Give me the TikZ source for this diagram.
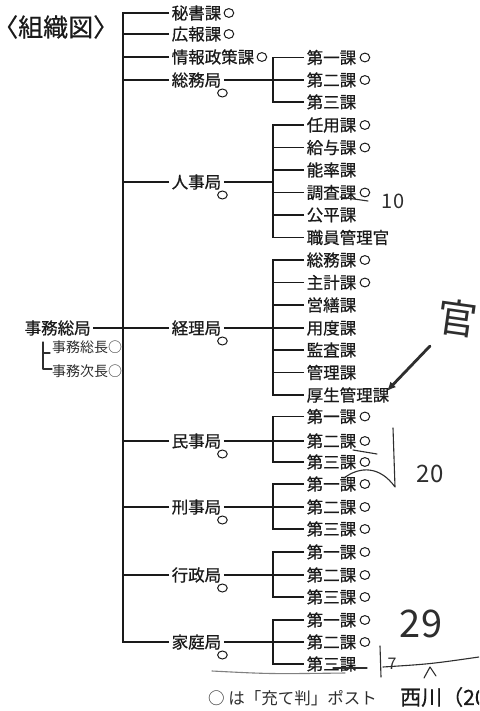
\documentclass[tikz,border=0pt]{standalone}
\usepackage{fontspec}
\newfontfamily\jp{Noto Sans CJK JP}[FakeBold=0.6]
\newfontfamily\jh{Noto Sans CJK JP}
\usetikzlibrary{arrows.meta}
\definecolor{ink}{HTML}{1A1A1A}
\definecolor{hand}{HTML}{2E2E2E}
\tikzset{
  ka/.style={font=\jp\fontsize{16.5}{16.5}\selectfont, inner xsep=2.5pt, inner ysep=0pt, anchor=west, text=ink},
  ln/.style={line width=1.3pt, draw=ink},
  mk/.style={line width=1pt, draw=ink},
  hw/.style={draw=hand, line width=1.1pt, line cap=round, line join=round},
  hwt/.style={inner sep=0pt, text=hand},
}
\newcommand\maru[1]{\draw[mk] ([xshift=6pt]#1.east) ellipse (4.8pt and 4.4pt);}
\newcommand\maruB[1]{\draw[mk] ([xshift=-1.5pt,yshift=-13pt]#1.east) ellipse (4.8pt and 4pt);}
\begin{document}
\begin{tikzpicture}[x=1pt,y=-1pt]
\useasboundingbox (0,0) rectangle (479,711);
\clip (0,0) rectangle (479,711);
\fill[white] (0,0) rectangle (479,711);

\node[ka, font=\jp\fontsize{25}{25}\selectfont, inner sep=0pt] (title) at (0,27) {\hspace*{-7pt}〈組織図〉};

\coordinate (tr) at (123,0);
\coordinate (sv) at (273,0);

% first level
\node[ka] (hisho) at (169,13) {秘書課};
\node[ka] (koho) at (169,34) {広報課};
\node[ka] (joho) at (169,57) {情報政策課};
\node[ka] (somu) at (169,80) {総務局};
\node[ka] (jinji) at (169,182) {人事局};
\node[ka] (keiri) at (169,328) {経理局};
\node[ka] (minji) at (169,441) {民事局};
\node[ka] (keiji) at (169,507) {刑事局};
\node[ka] (gyosei) at (169,575) {行政局};
\node[ka] (katei) at (169,642) {家庭局};
\node[ka] (jimu) at (22,328) {事務総局};

% second level
\node[ka] (s1) at (304,57.5) {第一課};
\node[ka] (s2) at (304,80) {第二課};
\node[ka] (s3) at (304,102) {第三課};

\node[ka] (j1) at (304,125) {任用課};
\node[ka] (j2) at (304,147.5) {給与課};
\node[ka] (j3) at (304,170) {能率課};
\node[ka] (j4) at (304,192.5) {調査課};
\node[ka] (j5) at (304,215) {公平課};
\node[ka] (j6) at (304,237.5) {職員管理官};

\node[ka] (k1) at (304,260) {総務課};
\node[ka] (k2) at (304,282.5) {主計課};
\node[ka] (k3) at (304,305) {営繕課};
\node[ka] (k4) at (304,328) {用度課};
\node[ka] (k5) at (304,350) {監査課};
\node[ka] (k6) at (304,372.5) {管理課};
\node[ka] (k7) at (304,395) {厚生管理課};

\node[ka] (m1) at (304,416.5) {第一課};
\node[ka] (m2) at (304,441) {第二課};
\node[ka] (m3) at (304,462) {第三課};

\node[ka] (p1) at (304,484) {第一課};
\node[ka] (p2) at (304,507) {第二課};
\node[ka] (p3) at (304,529) {第三課};

\node[ka] (g1) at (304,552) {第一課};
\node[ka] (g2) at (304,575) {第二課};
\node[ka] (g3) at (304,597) {第三課};

\node[ka] (f1) at (304,620) {第一課};
\node[ka] (f2) at (304,642) {第二課};
\node[ka] (f3) at (304,664) {第三課};

% trunk
\draw[ln] (hisho.west) -| (tr |- katei.west) -- (katei.west);
\foreach \n in {koho,joho,somu,jinji,keiri,minji,keiji,gyosei}
  \draw[ln] (\n.west) -- (\n.west -| tr);
\draw[ln] (jimu.east) -- (keiri.west);

% sub brackets
\draw[ln] (s1.west) -| (sv |- s3.west) -- (s3.west);
\draw[ln] (somu.east) -- (s2.west);

\draw[ln] (j1.west) -| (sv |- j6.west) -- (j6.west);
\foreach \n in {j2,j3,j4,j5} \draw[ln] (\n.west) -- (\n.west -| sv);
\draw[ln] (jinji.east) -- (jinji.east -| sv);

\draw[ln] (k1.west) -| (sv |- k7.west) -- (k7.west);
\foreach \n in {k2,k3,k5,k6} \draw[ln] (\n.west) -- (\n.west -| sv);
\draw[ln] (keiri.east) -- (k4.west);

\draw[ln] (m1.west) -| (sv |- m3.west) -- (m3.west);
\draw[ln] (minji.east) -- (m2.west);
\draw[ln] (p1.west) -| (sv |- p3.west) -- (p3.west);
\draw[ln] (keiji.east) -- (p2.west);
\draw[ln] (g1.west) -| (sv |- g3.west) -- (g3.west);
\draw[ln] (gyosei.east) -- (g2.west);
\draw[ln] (f1.west) -| (sv |- f3.west) -- (f3.west);
\draw[ln] (katei.east) -- (f2.west);

% circle marks
\draw[mk] ([xshift=5pt]hisho.east) ellipse (4.8pt and 4.4pt);
\draw[mk] ([xshift=5pt]koho.east) ellipse (4.8pt and 4.4pt);
\draw[mk] ([xshift=5pt]joho.east) ellipse (4.8pt and 4.4pt);
\foreach \n in {s1,s2,j1,j2,j4,k1,k2,m1,m2,m3,p1,p2,p3,g1,g2,g3,f1,f2} {\maru{\n}}
\foreach \n in {somu,jinji,keiri,minji,keiji,gyosei,katei} {\maruB{\n}}

% handwritten notes
\node[hwt, font=\jh\fontsize{14}{14}\selectfont, anchor=west] (socho) at (52,347) {事務総長○};
\node[hwt, font=\jh\fontsize{14}{14}\selectfont, anchor=west] (jicho) at (52,371) {事務次長○};
\draw[hw] (43,342) -- (43,369) -- (52,369);
\draw[hw] (43,353) -- (50,353);

\draw[hw] (340,197) -- (368,201);
\node[hwt, font=\jh\fontsize{20}{20}\selectfont] (h10) at (393,201) {10};

\node[hwt, font=\jh\fontsize{40}{40}\selectfont, rotate=-8] (kan) at (457,318) {官};
\coordinate (arS) at (430,346);
\draw[hw, line width=2.8pt, -{Latex[length=9pt,width=8pt]}] (arS) -- ([xshift=-5pt,yshift=4pt]k7.east);

\draw[hw] (353,450) -- (377,454);
\draw[hw] (393,428) -- (395,487) .. controls (380,466) and (360,466) .. (344,478);
\node[hwt, font=\jh\fontsize{24}{24}\selectfont] (h20) at (430,474) {20};

\node[hwt, font=\jh\fontsize{38}{38}\selectfont] (h29) at (421,624) {29};
\draw[hw] (380,646) -- (381,677);
\node[hwt, font=\jh\fontsize{16}{16}\selectfont] (h7) at (392,664) {7};
\draw[hw, draw=gray] (212,671) .. controls (270,674) .. (345,673);
\draw[hw] (333,668) -- (367,668);
\draw[hw] (383,667) .. controls (430,664) .. (479,657);
\draw[hw] (424,678) -- (430,667) -- (436,676);

% footer
\node[hwt, font=\jh\fontsize{16.5}{16.5}\selectfont, anchor=west] (note) at (208,698) {○ は「充て判」ポスト};
\node[ka, font=\jp\fontsize{21}{21}\selectfont, inner sep=0pt] (src) at (400,697) {西川（20};
\end{tikzpicture}
\end{document}
